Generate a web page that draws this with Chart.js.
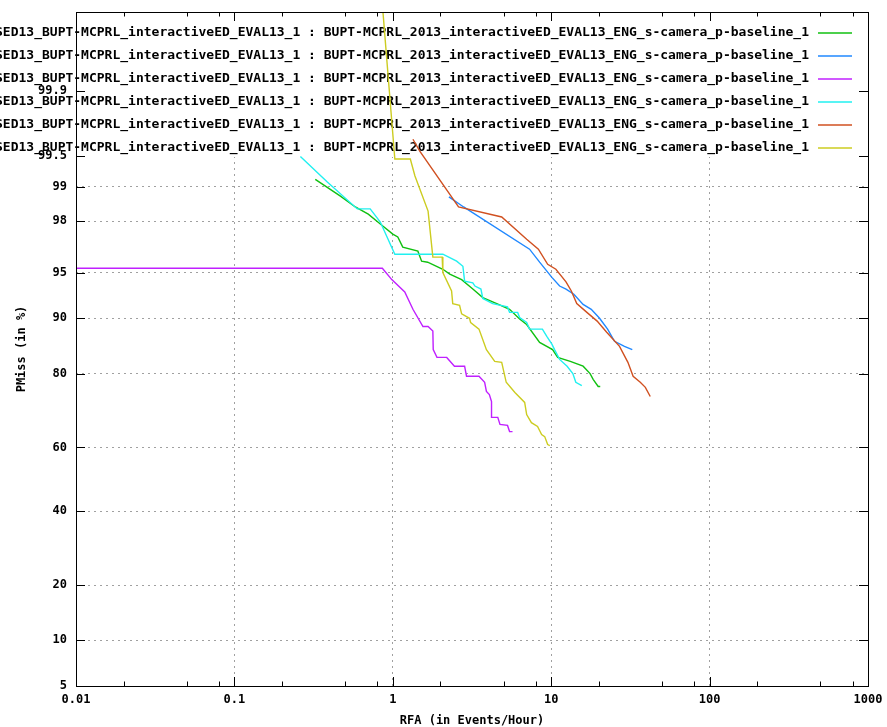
<!DOCTYPE html>
<html>
<head>
<meta charset="utf-8">
<script src="https://cdn.jsdelivr.net/npm/chart.js@4.4.1/dist/chart.umd.min.js"></script>
<style>
  html, body { margin: 0; padding: 0; background: #fff; }
  canvas { display: block; }
</style>
</head>
<body>
<canvas id="det" width="887" height="727"></canvas>
<script>
// DET curves, PMiss (probit scale) vs RFA (log scale)
const runLabel = "SED13_BUPT-MCPRL_interactiveED_EVAL13_1 : BUPT-MCPRL_2013_interactiveED_EVAL13_ENG_s-camera_p-baseline_1";

const xTickValues = [0.01, 0.1, 1, 10, 100, 1000];
const xTickLabels = ["0.01", "0.1", "1", "10", "100", "1000"];
const yTickValues = [5, 10, 20, 40, 60, 80, 90, 95, 98, 99, 99.5, 99.9];
const yTickLabels = ["5", "10", "20", "40", "60", "80", "90", "95", "98", "99", "99.5", "99.9"];

const greenRfa = [0.324, 0.467, 0.58, 0.70, 0.834, 1.0, 1.075, 1.156, 1.44, 1.52, 1.66, 2.07, 2.29, 2.72, 3.2, 3.7, 4.53, 5.46, 6.32, 7.0, 8.45, 10.2, 10.99, 13.2, 15.9, 17.6, 18.4, 19.8, 20.4];
const greenPmiss = [99.15, 98.79, 98.49, 98.26, 97.89, 97.45, 97.31, 96.77, 96.53, 95.87, 95.8, 95.27, 94.88, 94.4, 93.5, 92.6, 91.9, 91.2, 89.9, 89.1, 86.2, 84.9, 83.4, 82.6, 81.6, 80.0, 78.7, 77.0, 77.0];

const blueRfa = [2.26, 2.8, 7.3, 8.45, 10.1, 11.3, 12.4, 13.9, 15.9, 17.9, 20.2, 22.7, 25.1, 29.0, 32.5];
const bluePmiss = [98.77, 98.49, 96.65, 95.8, 94.6, 93.8, 93.5, 92.96, 91.8, 91.2, 90.0, 88.4, 86.4, 85.5, 84.9];

const purpleRfa = [0.01, 0.859, 0.985, 1.19, 1.34, 1.55, 1.67, 1.79, 1.8, 1.9, 2.19, 2.45, 2.84, 2.92, 3.5, 3.8, 3.9, 4.07, 4.2, 4.2, 4.6, 4.75, 5.3, 5.46, 5.7];
const purplePmiss = [95.35, 95.35, 94.4, 93.2, 91.2, 88.8, 88.8, 88.1, 84.9, 83.4, 83.4, 81.6, 81.6, 79.4, 79.4, 78.0, 75.8, 75.0, 73.2, 68.9, 68.9, 66.9, 66.6, 64.8, 64.8];

const cyanRfa = [0.261, 0.386, 0.597, 0.72, 0.834, 1.03, 2.07, 2.53, 2.77, 2.84, 3.2, 3.3, 3.6, 3.7, 4.27, 5.3, 5.46, 6.14, 6.32, 7.0, 7.3, 8.8, 9.4, 10.1, 10.5, 11.3, 12.6, 13.7, 14.3, 15.6];
const cyanPmiss = [99.49, 99.10, 98.43, 98.43, 97.97, 96.34, 96.34, 95.87, 95.5, 94.26, 94.1, 93.8, 93.5, 92.5, 91.9, 91.5, 90.8, 90.8, 90.1, 89.4, 88.4, 88.4, 87.2, 85.9, 84.9, 83.0, 81.6, 80.0, 78.0, 77.2];

const orangeRfa = [1.34, 1.48, 2.6, 4.87, 7.0, 8.3, 9.5, 10.7, 12.4, 13.4, 14.5, 16.8, 19.5, 22.4, 27.0, 30.5, 32.9, 36.5, 39.3, 42.2];
const orangePmiss = [99.66, 99.55, 98.49, 98.16, 97.2, 96.65, 95.65, 95.27, 94.2, 93.3, 91.9, 90.8, 89.6, 87.9, 85.5, 82.4, 79.4, 78.0, 76.8, 74.5];

const yellowRfa = [0.845, 1.03, 1.29, 1.38, 1.67, 1.79, 2.05, 2.07, 2.35, 2.39, 2.64, 2.72, 3.05, 3.1, 3.5, 3.9, 4.4, 4.87, 5.2, 5.9, 6.8, 7.0, 7.5, 8.2, 8.7, 9.1, 9.5, 9.8];
const yellowPmiss = [99.995, 99.46, 99.46, 99.21, 98.36, 96.15, 96.15, 95.0, 93.3, 91.9, 91.7, 90.6, 90.0, 89.4, 88.4, 84.9, 82.6, 82.4, 78.0, 75.5, 72.97, 69.7, 67.4, 66.3, 63.9, 63.3, 60.9, 60.6];

const seriesColors = ["#10c010", "#2088ff", "#c020ff", "#20f0f0", "#d05020", "#cccc20"];

// inverse normal cdf (Acklam)
function probit(p) {
    const a = [-3.969683028665376e+01, 2.209460984245205e+02, -2.759285104469687e+02, 1.383577518672690e+02, -3.066479806614716e+01, 2.506628277459239e+00];
    const b = [-5.447609879822406e+01, 1.615858368580409e+02, -1.556989798598866e+02, 6.680131188771972e+01, -1.328068155288572e+01];
    const c = [-7.784894002430293e-03, -3.223964580411365e-01, -2.400758277161838e+00, -2.549732539343734e+00, 4.374664141464968e+00, 2.938163982698783e+00];
    const d = [7.784695709041462e-03, 3.224671290700398e-01, 2.445134137142996e+00, 3.754408661907416e+00];
    const pl = 0.02425;
    if (p < pl) {
        const q = Math.sqrt(-2 * Math.log(p));
        return (((((c[0]*q+c[1])*q+c[2])*q+c[3])*q+c[4])*q+c[5]) / ((((d[0]*q+d[1])*q+d[2])*q+d[3])*q+1);
    }
    if (p > 1 - pl) {
        const q = Math.sqrt(-2 * Math.log(1 - p));
        return -(((((c[0]*q+c[1])*q+c[2])*q+c[3])*q+c[4])*q+c[5]) / ((((d[0]*q+d[1])*q+d[2])*q+d[3])*q+1);
    }
    const q = p - 0.5, r = q * q;
    return (((((a[0]*r+a[1])*r+a[2])*r+a[3])*r+a[4])*r+a[5])*q / (((((b[0]*r+b[1])*r+b[2])*r+b[3])*r+b[4])*r+1);
}
const pm = v => probit(v / 100);

function toPoints(xs, ys) {
    return xs.map((x, i) => ({x: x, y: pm(ys[i])}));
}

const seriesData = [
    toPoints(greenRfa, greenPmiss),
    toPoints(blueRfa, bluePmiss),
    toPoints(purpleRfa, purplePmiss),
    toPoints(cyanRfa, cyanPmiss),
    toPoints(orangeRfa, orangePmiss),
    toPoints(yellowRfa, yellowPmiss)
];

const FONT = "'DejaVu Sans Mono', monospace";

// gnuplot style frame, inner ticks, opaque key, axis titles
const gnuplotLook = {
    id: 'gnuplotLook',
    beforeDatasetsDraw(chart) {
        const {ctx, chartArea: a} = chart;
        ctx.save();
        // opaque key box
        ctx.fillStyle = '#fff';
        ctx.fillRect(a.left + 1, a.top + 1, a.right - a.left - 2, 144);
        ctx.font = "bold 13px " + FONT;
        ctx.textAlign = 'right';
        ctx.textBaseline = 'middle';
        chart.data.datasets.forEach((ds, i) => {
            const y = 33 + i * 23;
            ctx.fillStyle = '#000';
            ctx.fillText(ds.label, 809, y);
            ctx.strokeStyle = seriesColors[i];
            ctx.lineWidth = 1.5;
            ctx.beginPath();
            ctx.moveTo(818, y);
            ctx.lineTo(852, y);
            ctx.stroke();
        });
        ctx.restore();
    },
    afterDatasetsDraw(chart) {
        const {ctx, chartArea: a, scales} = chart;
        ctx.save();
        ctx.strokeStyle = '#000';
        ctx.lineWidth = 1;
        ctx.beginPath();
        // x ticks (major decades, minor 2,5,8)
        xTickValues.forEach(v => {
            const px = Math.round(scales.x.getPixelForValue(v)) + 0.5;
            ctx.moveTo(px, a.bottom); ctx.lineTo(px, a.bottom - 9);
            ctx.moveTo(px, a.top); ctx.lineTo(px, a.top + 9);
            if (v < 1000) {
                [2, 5, 8].forEach(m => {
                    const mx = Math.round(scales.x.getPixelForValue(v * m)) + 0.5;
                    ctx.moveTo(mx, a.bottom); ctx.lineTo(mx, a.bottom - 4.5);
                    ctx.moveTo(mx, a.top); ctx.lineTo(mx, a.top + 4.5);
                });
            }
        });
        yTickValues.forEach(v => {
            const py = Math.round(scales.y.getPixelForValue(pm(v))) + 0.5;
            ctx.moveTo(a.left, py); ctx.lineTo(a.left + 9, py);
            ctx.moveTo(a.right, py); ctx.lineTo(a.right - 9, py);
        });
        ctx.stroke();
        ctx.strokeRect(Math.round(a.left) + 0.5, Math.round(a.top) + 0.5,
            Math.round(a.right - a.left), Math.round(a.bottom - a.top));
        // axis titles
        ctx.fillStyle = '#000';
        ctx.font = "bold 12px " + FONT;
        ctx.textAlign = 'center';
        ctx.textBaseline = 'middle';
        ctx.fillText("RFA (in Events/Hour)", (a.left + a.right) / 2, 721);
        ctx.translate(22, (a.top + a.bottom) / 2);
        ctx.rotate(-Math.PI / 2);
        ctx.fillText("PMiss (in %)", 0, 0);
        ctx.restore();
    }
};

new Chart(document.getElementById('det'), {
    type: 'line',
    data: {
        datasets: seriesData.map((pts, i) => ({
            label: runLabel,
            data: pts,
            borderColor: seriesColors[i],
            backgroundColor: seriesColors[i],
            borderWidth: 1.4,
            pointRadius: 0,
            tension: 0,
            fill: false,
            order: 5 - i
        }))
    },
    options: {
        responsive: false,
        animation: false,
        layout: { padding: { top: 12, right: 19, left: 0, bottom: 0 } },
        plugins: {
            legend: { display: false },
            tooltip: { enabled: false }
        },
        scales: {
            x: {
                type: 'logarithmic',
                min: 0.01,
                max: 1000,
                afterBuildTicks: s => { s.ticks = xTickValues.map(v => ({value: v})); },
                afterFit: s => { s.height = 41; s.paddingLeft = 0; s.paddingRight = 0; },
                ticks: {
                    autoSkip: false,
                    maxRotation: 0,
                    padding: 7,
                    color: '#000',
                    font: { family: FONT, size: 12, weight: 'bold' },
                    callback: (v, i) => xTickLabels[i]
                },
                grid: { color: '#a0a0a0', lineWidth: 1, drawTicks: false },
                border: { display: false, dash: [2, 4] }
            },
            y: {
                type: 'linear',
                min: pm(5),
                max: pm(99.99),
                afterBuildTicks: s => { s.ticks = yTickValues.map(v => ({value: pm(v)})); },
                afterFit: s => { s.width = 76; s.paddingTop = 0; s.paddingBottom = 0; },
                ticks: {
                    autoSkip: false,
                    padding: 9,
                    color: '#000',
                    font: { family: FONT, size: 12, weight: 'bold' },
                    callback: (v, i) => yTickLabels[i]
                },
                grid: { color: '#a0a0a0', lineWidth: 1, drawTicks: false },
                border: { display: false, dash: [2, 4] }
            }
        }
    },
    plugins: [gnuplotLook]
});
</script>
</body>
</html>
